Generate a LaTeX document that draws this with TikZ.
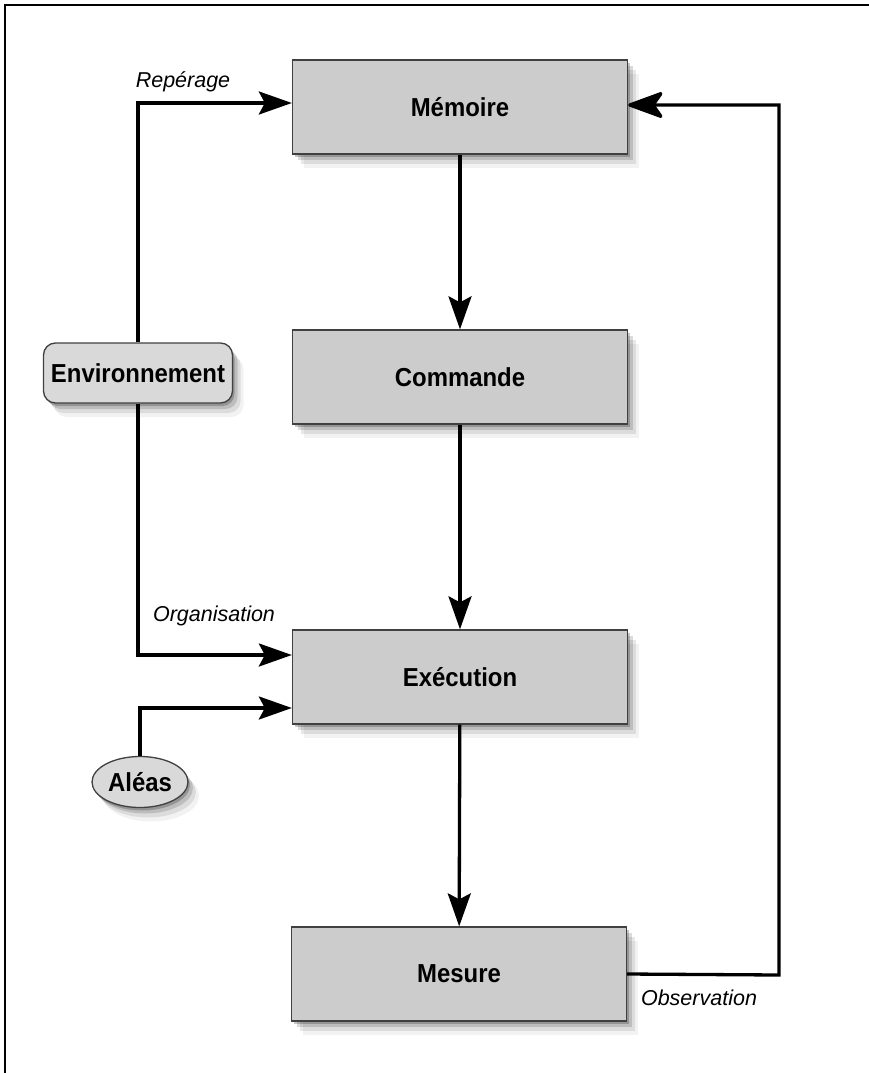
\documentclass[tikz,border=0pt]{standalone}
\usepackage{fontspec}
\setmainfont{Liberation Sans}
\newfontfamily\blocfont{Liberation Sans}[FakeStretch=0.92]
\usetikzlibrary{arrows.meta,shadows,shapes.geometric}

\tikzset{
  ombre/.style={
    general shadow={shadow xshift=2pt, shadow yshift=-3pt, fill=black, opacity=0.22},
    general shadow={shadow xshift=5pt, shadow yshift=-6pt, fill=black, opacity=0.14},
    general shadow={shadow xshift=8pt, shadow yshift=-10pt, fill=black, opacity=0.09},
    general shadow={shadow xshift=11pt, shadow yshift=-14pt, fill=black, opacity=0.05}},
  bloc/.style={draw=black!75, line width=1.3pt, fill=black!20,
    minimum width=335pt, minimum height=94pt,
    font=\blocfont\fontsize{26}{30}\selectfont\bfseries, ombre},
  entree/.style={draw=black!75, line width=1.3pt, fill=black!15,
    font=\blocfont\fontsize{26}{30}\selectfont\bfseries, ombre},
  fleche/.style={line width=3.3pt, -{Stealth[length=33pt,width=23pt,inset=6pt]}},
  etiquette/.style={font=\fontsize{21.5}{25}\selectfont\itshape}
}

\begin{document}
\begin{tikzpicture}[x=1pt,y=-1pt]
\useasboundingbox (0,0) rectangle (869,1073);
% Cadre (haut et gauche)
\draw[line width=2.2pt] (5,1073) -- (5,5) -- (869,5);

% Blocs de la chaine
\node[bloc] (memoire) at (460,107) {Mémoire};
\node[bloc] (commande) at (460,377) {Commande};
\node[bloc] (execution) at (460,677) {Exécution};
\node[bloc] (mesure) at (459,974) {Mesure};

% Entrees
\node[entree, rounded corners=12pt, minimum width=189pt, minimum height=60pt, inner sep=2pt]
  (env) at (138,373) {Environnement};
\node[entree, ellipse, minimum width=96pt, minimum height=51pt, inner sep=1pt]
  (aleas) at (140,782) {Aléas};

% Chaine principale
\draw[fleche] (memoire) -- (commande);
\draw[fleche] (commande) -- (execution);
\draw[fleche] (execution) -- (mesure);

% Environnement vers memoire et execution
\draw[fleche] (env.north) |- ([yshift=4pt]memoire.west);
\draw[fleche] (env.south) |- ([yshift=22pt]execution.west);
\draw[fleche] (aleas.north) |- ([yshift=-31pt]execution.west);

% Retour d'observation
\coordinate (retour) at (779,975);
\draw[line width=3.3pt, -{Stealth[length=40pt,width=29pt,inset=10pt,round]}]
  (mesure.east) -- (retour) |- ([yshift=2pt]memoire.east);

% Labels
\node[etiquette] (lrep) at (183,82) {Repérage};
\node[etiquette] (lorg) at (214,616) {Organisation};
\node[etiquette] (lobs) at (699,998) {Observation};
\end{tikzpicture}
\end{document}
